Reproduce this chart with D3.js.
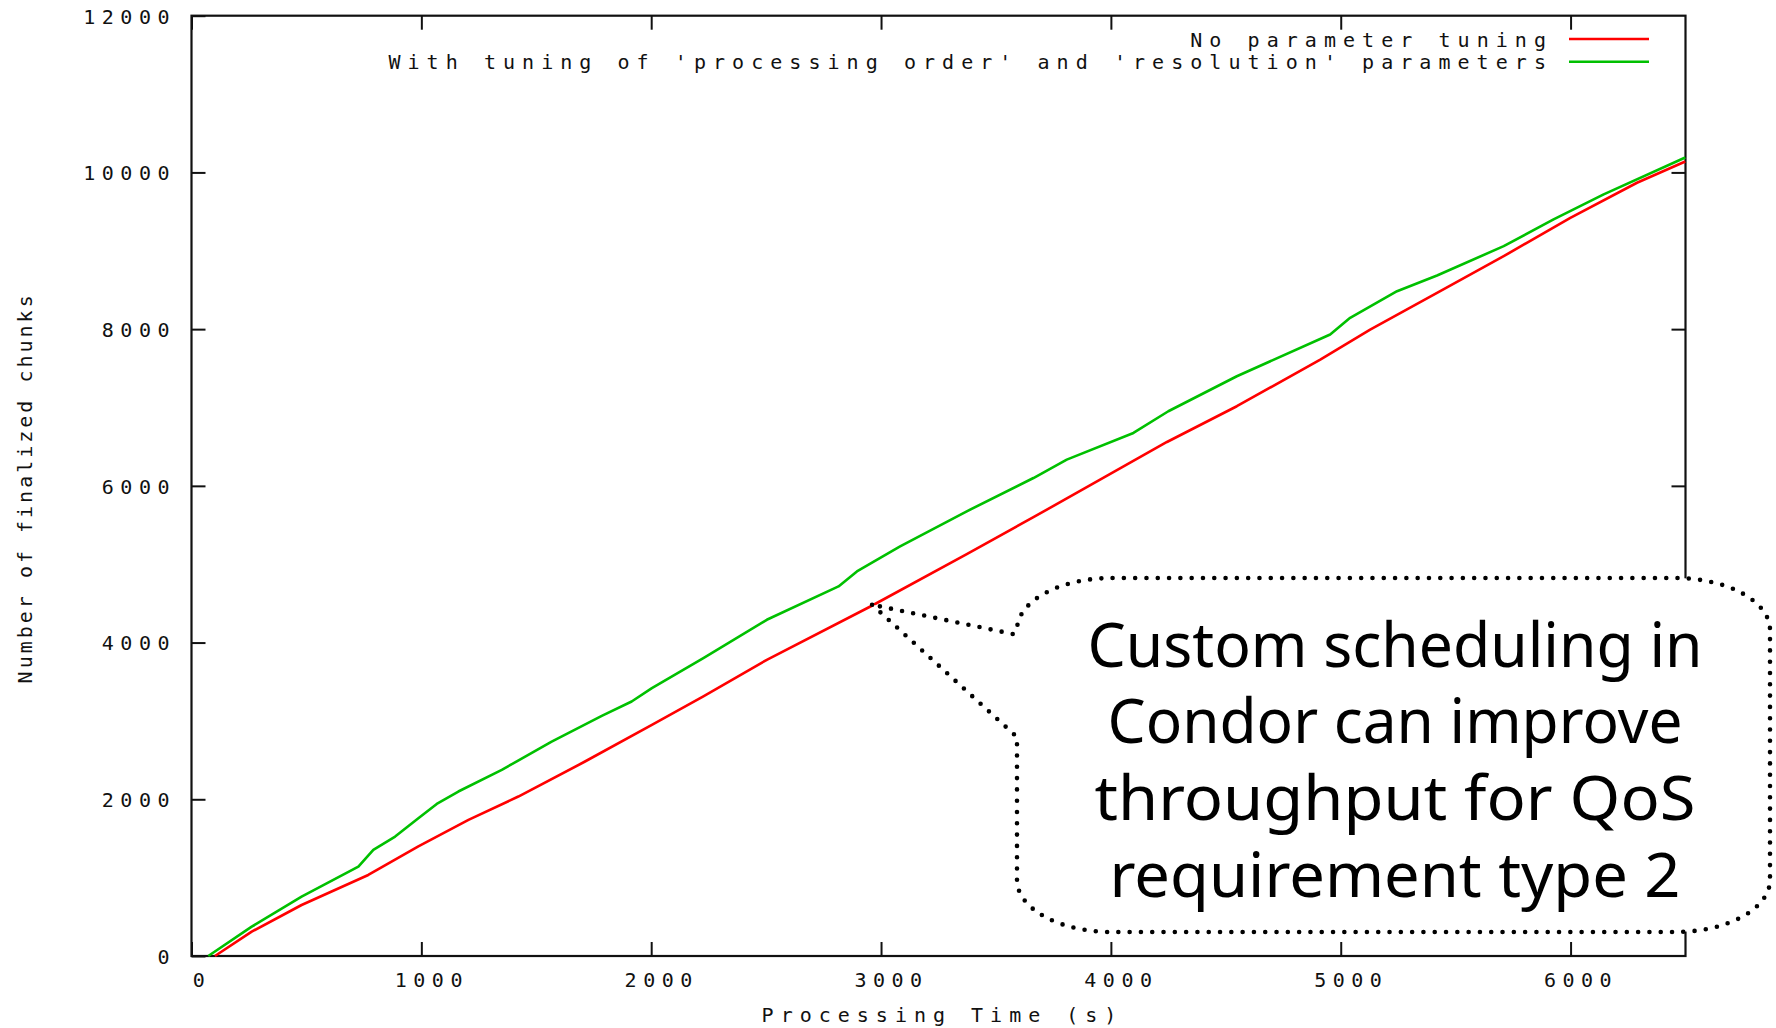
<!DOCTYPE html>
<html><head><meta charset="utf-8">
<script src="https://cdn.jsdelivr.net/npm/d3@7"></script>
<style>
body{margin:0;background:#fff}
svg{display:block}
.mono{font-family:"DejaVu Sans Mono","Liberation Mono",monospace;font-size:20px;fill:#111}
</style>
</head><body>
<svg id="c" width="1776" height="1028"></svg>
<script>
// ---- data ----
const timeRed   = [102,262,479,769,813,987,1205,1422,1712,2003,2227,2503,2960,3373,3663,3953,4244,4548,4911,5128,5419,5709,5999,6289,6499];
const chunksRed = [0,311,651,1034,1110,1400,1737,2035,2482,2950,3312,3780,4470,5130,5600,6079,6560,7016,7612,7995,8463,8931,9421,9868,10140];
const timeGreen   = [73,262,479,726,791,886,987,1067,1161,1350,1567,1785,1915,2003,2227,2503,2815,2895,3083,3373,3663,3808,4098,4250,4548,4954,5041,5245,5419,5709,5926,6144,6499];
const chunksGreen = [0,374,758,1141,1354,1524,1758,1941,2099,2375,2737,3065,3248,3418,3800,4291,4717,4908,5228,5675,6100,6335,6675,6952,7399,7931,8144,8484,8685,9059,9400,9719,10190];
const xTicks = [0,1000,2000,3000,4000,5000,6000];
const yTicks = [0,2000,4000,6000,8000,10000,12000];
const xDomain = [0,6500];
const yDomain = [0,12000];
const seriesNames  = ["No parameter tuning","With tuning of 'processing order' and 'resolution' parameters"];
const seriesColors = ["#ff0000","#00c000"];
const xTitle = "Processing Time (s)";
const yTitle = "Number of finalized chunks";
const calloutLines = ["Custom scheduling in","Condor can improve","throughput for QoS","requirement type 2"];
const calloutTip = [2961, 4483]; // data point the callout points at

// ---- layout ----
const W=1776,H=1028;
const M={l:191.5,r:W-1685.5,t:15.7,b:H-956};
const svg=d3.select("#c");
const x=d3.scaleLinear().domain(xDomain).range([M.l,W-M.r]);
const y=d3.scaleLinear().domain(yDomain).range([H-M.b,M.t]);
const TICK=14;

// mirrored ticks (top/right)
svg.append("g").attr("transform",`translate(0,${M.t})`)
  .call(d3.axisTop(x).tickValues(xTicks).tickSizeInner(-TICK).tickSizeOuter(0).tickFormat(""))
  .call(g=>g.select(".domain").remove());
svg.append("g").attr("transform",`translate(${W-M.r},0)`)
  .call(d3.axisRight(y).tickValues(yTicks.filter(v=>v>0&&v<12000)).tickSizeInner(-TICK).tickSizeOuter(0).tickFormat(""))
  .call(g=>g.select(".domain").remove());

// bottom axis
const gx=svg.append("g").attr("transform",`translate(0,${H-M.b})`)
  .call(d3.axisBottom(x).tickValues(xTicks).tickSizeInner(-TICK).tickSizeOuter(0).tickFormat(d3.format("d")));
gx.select(".domain").remove();
gx.selectAll("text").attr("class","mono").attr("fill",null).attr("font-size",null).attr("font-family",null)
  .attr("y",31).attr("dy",0).attr("dx",10).style("letter-spacing","6.5px");
// left axis
const gy=svg.append("g").attr("transform",`translate(${M.l},0)`)
  .call(d3.axisLeft(y).tickValues(yTicks).tickSizeInner(-TICK).tickSizeOuter(0).tickFormat(d3.format("d")));
gy.select(".domain").remove();
gy.selectAll("text").attr("class","mono").attr("fill",null).attr("font-size",null).attr("font-family",null)
  .attr("x",-15.5).attr("dy",7.3).attr("text-anchor","end").style("letter-spacing","6.5px");
svg.selectAll(".tick line").attr("stroke","#111").attr("stroke-width",2);

// border
svg.append("rect").attr("x",M.l).attr("y",M.t).attr("width",W-M.r-M.l).attr("height",H-M.b-M.t)
  .attr("fill","none").attr("stroke","#111").attr("stroke-width",2.2);

// series
const line=d3.line().x(d=>x(d[0])).y(d=>y(d[1]));
const series=[d3.zip(timeRed,chunksRed), d3.zip(timeGreen,chunksGreen)];
series.forEach((s,i)=>{
  svg.append("path").datum(s).attr("d",line).attr("fill","none")
    .attr("stroke",seriesColors[i]).attr("stroke-width",2.6).attr("stroke-linejoin","round");
});

// legend
seriesNames.forEach((n,i)=>{
  const ly=39+i*22.7;
  svg.append("text").attr("class","mono").attr("x",1553).attr("y",ly+7.5)
    .attr("text-anchor","end").style("letter-spacing","7.05px").text(n);
  svg.append("line").attr("x1",1569).attr("x2",1649).attr("y1",ly).attr("y2",ly)
    .attr("stroke",seriesColors[i]).attr("stroke-width",2.6);
});

// axis titles
svg.append("text").attr("class","mono").attr("x",(M.l+W-M.r)/2+4).attr("y",1022)
  .attr("text-anchor","middle").style("letter-spacing","7px").text(xTitle);
svg.append("text").attr("class","mono").attr("transform",`translate(32,${(M.t+H-M.b)/2+2}) rotate(-90)`)
  .attr("text-anchor","middle").style("letter-spacing","3px").text(yTitle);

// callout
const L=1017,R=1770,T=578,B=932,rx=95,ry=52;
const tx=x(calloutTip[0]), ty=y(calloutTip[1]);
const arc=(ex,ey)=>` A ${rx} ${ry} 0 0 0 ${ex} ${ey}`;
const d=`M ${tx} ${ty} L ${L} 737 L ${L} ${B-ry}`+arc(L+rx,B)+` L ${R-rx} ${B}`+arc(R,B-ry)+
      ` L ${R} ${T+ry}`+arc(R-rx,T)+` L ${L+rx} ${T}`+arc(L,T+ry)+` L ${L-4} ${T+ry+4} Z`;
svg.append("path").attr("d",d).attr("fill","#fff").attr("stroke","#000")
  .attr("stroke-width",4.6).attr("stroke-linecap","round").attr("stroke-dasharray","0 11.3");

const baselines=[667,743,820,897];
const widths=[615,575,601,571];
calloutLines.forEach((t,i)=>{
  svg.append("text").attr("x",1395).attr("y",baselines[i]).attr("text-anchor","middle")
    .attr("font-family","'Comic Sans MS','Noto Sans',sans-serif").attr("font-size",62)
    .attr("textLength",widths[i]).attr("lengthAdjust","spacingAndGlyphs")
    .attr("fill","#000").text(t);
});
</script>
</body></html>
